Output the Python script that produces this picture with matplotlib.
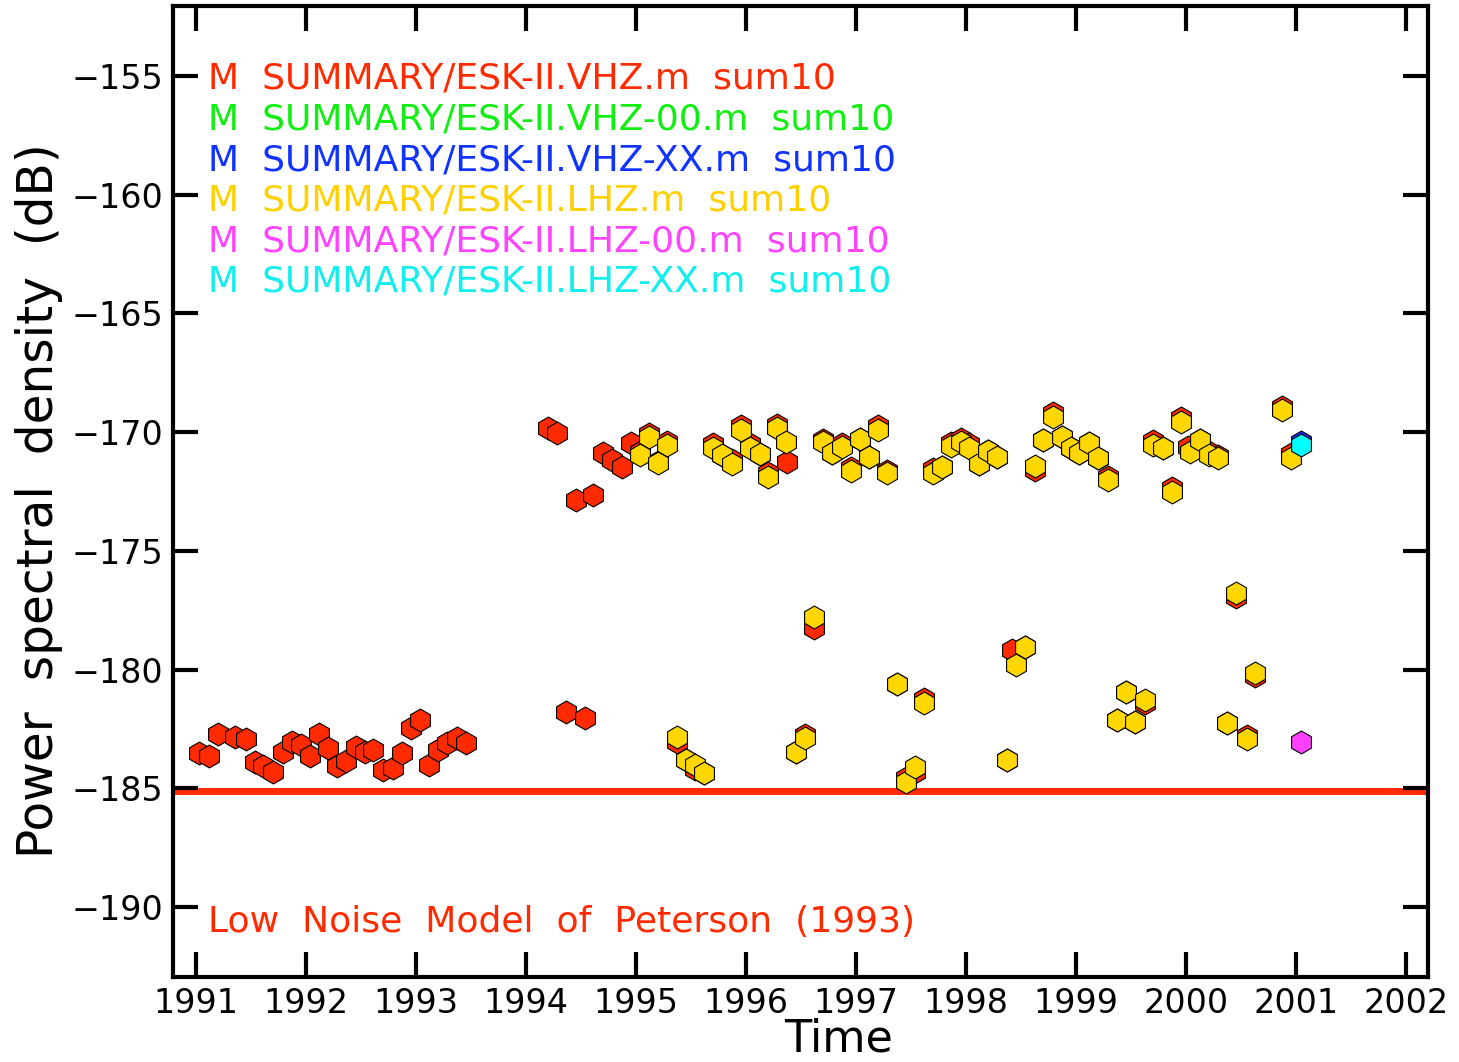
import matplotlib
matplotlib.use("Agg")
import matplotlib.pyplot as plt

# VHZ (red) time/dB samples
vhz_t = [1991.03, 1991.12, 1991.20, 1991.35, 1991.45, 1991.54, 1991.61, 1991.70,
         1991.79, 1991.87, 1991.95, 1992.04, 1992.12, 1992.20, 1992.28, 1992.36,
         1992.45, 1992.54, 1992.61, 1992.70, 1992.79, 1992.87, 1992.95, 1993.04,
         1993.12, 1993.20, 1993.28, 1993.37, 1993.45,
         1994.20, 1994.28, 1994.36, 1994.45, 1994.54, 1994.61, 1994.70, 1994.78,
         1994.87, 1994.95,
         1995.04, 1995.12, 1995.20, 1995.28, 1995.37, 1995.45, 1995.54, 1995.62,
         1995.70, 1995.78, 1995.87, 1995.95, 1996.04, 1996.13, 1996.20, 1996.28,
         1996.37, 1996.45, 1996.54, 1996.62, 1996.70, 1996.78, 1996.87, 1996.95,
         1997.04, 1997.12, 1997.20, 1997.28, 1997.37, 1997.45, 1997.54, 1997.62,
         1997.70, 1997.78, 1997.86, 1997.95, 1998.03, 1998.12, 1998.20, 1998.28,
         1998.37, 1998.42, 1998.54, 1998.63, 1998.70, 1998.79, 1998.87, 1998.95,
         1999.03, 1999.12, 1999.20, 1999.29, 1999.37, 1999.45, 1999.54, 1999.63,
         1999.70, 1999.79, 1999.87, 1999.95, 2000.02, 2000.13, 2000.21, 2000.29,
         2000.37, 2000.45, 2000.55, 2000.63, 2000.87, 2000.95]
vhz_db = [-183.52, -183.64, -182.72, -182.84, -182.93, -183.90, -184.07, -184.32,
          -183.48, -183.06, -183.18, -183.64, -182.72, -183.31, -184.07, -183.85,
          -183.26, -183.48, -183.39, -184.23, -184.15, -183.52, -182.47, -182.13,
          -184.02, -183.39, -183.10, -182.89, -183.10,
          -169.83, -170.04, -181.79, -172.86, -182.04, -172.65, -170.88, -171.18,
          -171.47, -170.46,
          -170.85, -170.06, -171.25, -170.40, -183.05, -183.81, -184.20, -184.36,
          -170.52, -170.96, -171.18, -169.76, -170.52, -170.92, -171.74, -169.68,
          -171.26, -183.48, -182.74, -178.25, -170.35, -170.88, -170.48, -171.49,
          -170.29, -171.05, -169.76, -171.62, -180.61, -184.55, -184.30, -181.26,
          -171.57, -171.47, -170.44, -170.27, -170.52, -171.34, -170.80, -171.05,
          -183.81, -179.18, -179.05, -171.58, -170.33, -169.21, -170.21, -170.67,
          -170.88, -170.46, -171.09, -171.87, -182.13, -180.95, -182.21, -181.40,
          -170.39, -170.67, -172.37, -169.42, -170.64, -170.33, -170.85, -171.00,
          -182.25, -176.93, -182.78, -180.28, -168.92, -170.94]

# VHZ-00 and VHZ-XX: no visible samples except one VHZ-XX point
vhz00_t = []
vhz00_db = []
vhzxx_t = [2001.045]
vhzxx_db = [-170.40]

# LHZ (yellow)
lhz_t = [1995.04, 1995.12, 1995.20, 1995.28, 1995.37, 1995.45, 1995.54, 1995.62,
         1995.70, 1995.78, 1995.87, 1995.95, 1996.04, 1996.13, 1996.20, 1996.28,
         1996.36, 1996.45, 1996.54, 1996.62, 1996.70, 1996.78, 1996.87, 1996.95,
         1997.04, 1997.12, 1997.20, 1997.28, 1997.37, 1997.45, 1997.54, 1997.62,
         1997.70, 1997.78, 1997.86, 1997.95, 1998.03, 1998.12, 1998.20, 1998.28,
         1998.37, 1998.45, 1998.54, 1998.63, 1998.70, 1998.79, 1998.87, 1998.95,
         1999.03, 1999.12, 1999.20, 1999.29, 1999.37, 1999.45, 1999.54, 1999.63,
         1999.70, 1999.79, 1999.87, 1999.95, 2000.04, 2000.13, 2000.21, 2000.29,
         2000.37, 2000.45, 2000.55, 2000.63, 2000.87, 2000.95]
lhz_db = [-170.96, -170.21, -171.30, -170.54, -182.84, -183.81, -184.02, -184.36,
          -170.67, -170.96, -171.34, -169.91, -170.67, -170.92, -171.89, -169.83,
          -170.42, -183.48, -182.89, -177.79, -170.42, -170.88, -170.63, -171.64,
          -170.29, -171.05, -169.91, -171.72, -180.61, -184.74, -184.11, -181.41,
          -171.72, -171.47, -170.59, -170.42, -170.67, -171.34, -170.80, -171.05,
          -183.81, -179.81, -179.05, -171.43, -170.33, -169.36, -170.21, -170.67,
          -170.88, -170.46, -171.09, -172.02, -182.13, -180.95, -182.21, -181.28,
          -170.54, -170.67, -172.52, -169.57, -170.84, -170.33, -170.96, -171.09,
          -182.25, -176.78, -182.93, -180.15, -169.07, -171.09]

# LHZ-00 (magenta) and LHZ-XX (cyan)
lhz00_t = [2001.045]
lhz00_db = [-183.05]
lhzxx_t = [2001.045]
lhzxx_db = [-170.54]

lnm_db = -185.1

series_names = ["M  SUMMARY/ESK-II.VHZ.m  sum10",
                "M  SUMMARY/ESK-II.VHZ-00.m  sum10",
                "M  SUMMARY/ESK-II.VHZ-XX.m  sum10",
                "M  SUMMARY/ESK-II.LHZ.m  sum10",
                "M  SUMMARY/ESK-II.LHZ-00.m  sum10",
                "M  SUMMARY/ESK-II.LHZ-XX.m  sum10"]
marker_colors = ["#ff2a00", "#00e000", "#1030ff", "#ffd700", "#ff40ff", "#00ffff"]
text_colors = ["#ff2a00", "#11ee11", "#1133ff", "#ffd000", "#ff44ff", "#11eeee"]
years = list(range(1991, 2003))
yticks = [-190, -185, -180, -175, -170, -165, -160, -155]

fig = plt.figure(figsize=(14.59, 10.62), dpi=100)
ax = fig.add_axes([173 / 1459, 1 - 977 / 1062, 1255 / 1459, 971 / 1062])

ax.axhline(lnm_db, color="#ff2a00", lw=5, zorder=1)

data = [(vhz_t, vhz_db), (vhz00_t, vhz00_db), (vhzxx_t, vhzxx_db),
        (lhz_t, lhz_db), (lhz00_t, lhz00_db), (lhzxx_t, lhzxx_db)]
for i, (t, v) in enumerate(data):
    if t:
        ax.plot(t, v, ls="none", marker="h", ms=16.5, mfc=marker_colors[i],
                mec="black", mew=0.8, zorder=3 + i)

ax.set_xlim(1990.79, 2002.2)
ax.set_ylim(-192.95, -152.05)
ax.set_xticks(years)
ax.set_yticks(yticks)
ax.tick_params(direction="in", length=18, width=3, labelsize=24, pad=7,
               top=True, right=True)
ax.minorticks_off()
for s in ax.spines.values():
    s.set_linewidth(3)

ax.set_xlabel("Time", fontsize=32, va="top")
ax.xaxis.set_label_coords(0.53, -0.042)
ax.set_ylabel("Power  spectral  density  (dB)", fontsize=35)
ax.yaxis.set_label_coords(-0.088, 0.491)

for i, name in enumerate(series_names):
    ax.text(0.028, 0.925 - i * 0.0418, name, transform=ax.transAxes,
            color=text_colors[i], fontsize=26, va="center", ha="left")

ax.text(0.028, 0.0566, "Low  Noise  Model  of  Peterson  (1993)",
        transform=ax.transAxes, color="#ff2a00", fontsize=26,
        va="center", ha="left")

fig.savefig("out.png", dpi=100)
